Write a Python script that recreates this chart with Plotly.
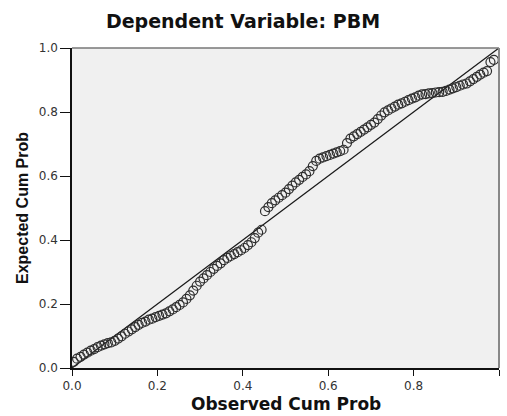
import plotly.graph_objects as go

title_text = "Dependent Variable: PBM"
x_title = "Observed Cum Prob"
y_title = "Expected Cum Prob"
tick_vals = [0.0, 0.2, 0.4, 0.6, 0.8, 1.0]
tick_text = ["0.0", "0.2", "0.4", "0.6", "0.8", "1.0"]

observed = [
    0.004, 0.012, 0.020, 0.028, 0.036, 0.044, 0.052, 0.060, 0.068, 0.076,
    0.084, 0.092, 0.100, 0.108, 0.116, 0.124, 0.132, 0.140, 0.148, 0.156,
    0.164, 0.172, 0.180, 0.188, 0.196, 0.204, 0.212, 0.220, 0.228, 0.236,
    0.244, 0.252, 0.260, 0.268, 0.276, 0.284, 0.292, 0.300, 0.308, 0.316,
    0.324, 0.332, 0.340, 0.348, 0.356, 0.364, 0.372, 0.380, 0.388, 0.396,
    0.404, 0.412, 0.420, 0.428, 0.436, 0.444, 0.452, 0.460, 0.468, 0.476,
    0.484, 0.492, 0.500, 0.508, 0.516, 0.524, 0.532, 0.540, 0.548, 0.556,
    0.564, 0.572, 0.580, 0.588, 0.596, 0.604, 0.612, 0.620, 0.628, 0.636,
    0.644, 0.652, 0.660, 0.668, 0.676, 0.684, 0.692, 0.700, 0.708, 0.716,
    0.724, 0.732, 0.740, 0.748, 0.756, 0.764, 0.772, 0.780, 0.788, 0.796,
    0.804, 0.812, 0.820, 0.828, 0.836, 0.844, 0.852, 0.860, 0.868, 0.876,
    0.884, 0.892, 0.900, 0.908, 0.916, 0.924, 0.932, 0.940, 0.948, 0.956,
    0.964, 0.972, 0.980, 0.988,
]

expected = [
    0.019, 0.029, 0.035, 0.042, 0.048, 0.054, 0.059, 0.065, 0.070, 0.074,
    0.078, 0.080, 0.085, 0.092, 0.099, 0.107, 0.114, 0.121, 0.128, 0.135,
    0.141, 0.145, 0.151, 0.154, 0.159, 0.163, 0.167, 0.171, 0.177, 0.183,
    0.190, 0.197, 0.205, 0.216, 0.227, 0.242, 0.257, 0.270, 0.280, 0.290,
    0.300, 0.310, 0.319, 0.327, 0.337, 0.344, 0.350, 0.356, 0.362, 0.368,
    0.375, 0.384, 0.393, 0.406, 0.423, 0.432, 0.490, 0.503, 0.515, 0.524,
    0.532, 0.540, 0.548, 0.559, 0.570, 0.580, 0.588, 0.597, 0.605, 0.615,
    0.631, 0.647, 0.654, 0.658, 0.662, 0.666, 0.670, 0.674, 0.678, 0.682,
    0.703, 0.717, 0.724, 0.731, 0.738, 0.745, 0.752, 0.760, 0.767, 0.778,
    0.789, 0.799, 0.805, 0.811, 0.817, 0.823, 0.827, 0.832, 0.837, 0.842,
    0.846, 0.851, 0.855, 0.856, 0.858, 0.859, 0.861, 0.862, 0.863, 0.866,
    0.870, 0.874, 0.878, 0.882, 0.886, 0.889, 0.896, 0.903, 0.910, 0.917,
    0.923, 0.928, 0.956, 0.963,
]

ref_line_x = [0.0, 1.0]
ref_line_y = [0.0, 1.0]

fig = go.Figure()
fig.add_trace(go.Scatter(
    x=ref_line_x, y=ref_line_y, mode="lines",
    line=dict(color="#1a1a1a", width=1.3), hoverinfo="skip", showlegend=False,
))
fig.add_trace(go.Scatter(
    x=observed, y=expected, mode="markers",
    marker=dict(symbol="circle-open", size=9, color="#2e2e2e", line=dict(width=1.2)),
    showlegend=False,
))

tick_font = dict(family="DejaVu Sans", size=12, color="#333333")

fig.update_layout(
    width=507, height=416,
    margin=dict(l=72, r=8, t=48, b=48),
    paper_bgcolor="white",
    plot_bgcolor="#f0f0f0",
    title=dict(
        text=title_text, x=243 / 507, xref="container", xanchor="center",
        y=1 - 21 / 416, yref="container", yanchor="middle",
        font=dict(family="DejaVu Sans", size=19, color="#111111", weight="bold"),
    ),
    xaxis=dict(
        range=[0, 1], tickvals=tick_vals, ticktext=tick_text,
        showgrid=False, zeroline=False,
        showline=True, linecolor="#111111", linewidth=1.5,
        ticks="outside", ticklen=6, tickwidth=1.3, tickcolor="#111111",
        tickfont=tick_font,
    ),
    yaxis=dict(
        range=[0, 1], tickvals=tick_vals, ticktext=tick_text,
        showgrid=False, zeroline=False,
        showline=True, linecolor="#111111", linewidth=1.5,
        ticks="outside", ticklen=10, tickwidth=1.3, tickcolor="#111111",
        tickfont=tick_font,
    ),
    shapes=[
        dict(type="line", xref="paper", yref="paper", x0=0, x1=1, y0=1, y1=1,
             line=dict(color="#777777", width=1.5)),
        dict(type="line", xref="paper", yref="paper", x0=1, x1=1, y0=0, y1=1,
             line=dict(color="#888888", width=2)),
    ],
    annotations=[
        dict(text=x_title, xref="paper", yref="paper", x=0.5, y=0,
             xanchor="center", yanchor="middle", yshift=-36, showarrow=False,
             font=dict(family="DejaVu Sans", size=17, color="#111111", weight="bold")),
        dict(text=y_title, xref="paper", yref="paper", x=0, y=0.5,
             xanchor="center", yanchor="middle", xshift=-50, textangle=-90,
             showarrow=False,
             font=dict(family="Liberation Sans", size=16, color="#111111", weight="bold")),
    ],
)

fig.write_html(
    "out.html",
    config={"displayModeBar": False},
    post_script="document.body.style.margin='0px';document.body.style.overflow='hidden';",
)
